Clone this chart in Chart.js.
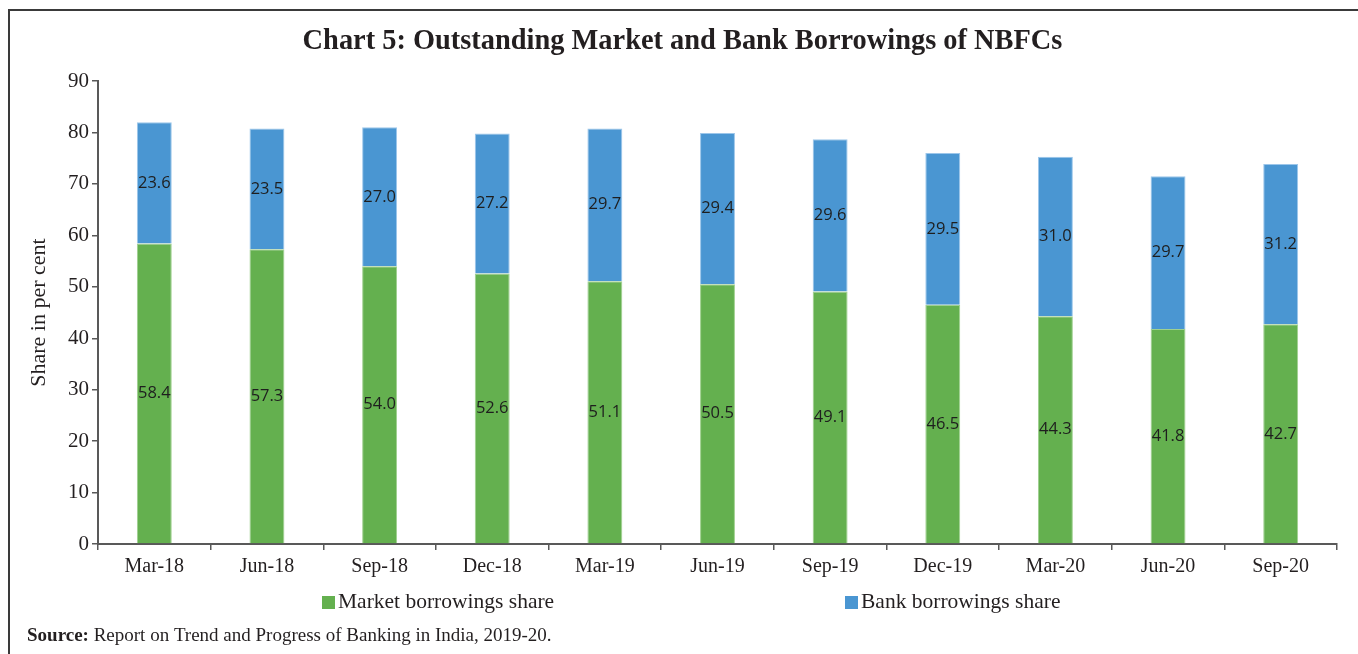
<!DOCTYPE html>
<html>
<head>
<meta charset="utf-8">
<script src="https://cdn.jsdelivr.net/npm/chart.js@4.4.1/dist/chart.umd.min.js"></script>
<style>
  html, body { margin: 0; padding: 0; background: #fff; overflow: hidden; }
  #wrap { position: relative; width: 1358px; height: 654px; }
  #frame { position: absolute; left: 8px; top: 9px; width: 1400px; height: 700px;
           border-left: 2px solid #3a3a3a; border-top: 2px solid #3a3a3a; }
  canvas { position: absolute; left: 0; top: 0; }
</style>
</head>
<body>
<div id="wrap">
  <div id="frame"></div>
  <canvas id="grafico" width="1358" height="654"></canvas>
</div>
<script>
const periodos = ['Mar-18', 'Jun-18', 'Sep-18', 'Dec-18', 'Mar-19', 'Jun-19', 'Sep-19', 'Dec-19', 'Mar-20', 'Jun-20', 'Sep-20'];
const mercado = [58.4, 57.3, 54.0, 52.6, 51.1, 50.5, 49.1, 46.5, 44.3, 41.8, 42.7];
const banco = [23.6, 23.5, 27.0, 27.2, 29.7, 29.4, 29.6, 29.5, 31.0, 29.7, 31.2];

const serif = '"Liberation Serif", "DejaVu Serif", serif';
const ejeColor = '#595959';

// numeros dentro de cada segmento
const etiquetasBarras = {
  id: 'etiquetasBarras',
  afterDatasetsDraw(chart) {
    const ctx = chart.ctx;
    ctx.save();
    ctx.font = '16.5px "Open Sans", "DejaVu Sans", sans-serif';
    ctx.fillStyle = '#1e1e1e';
    ctx.textAlign = 'center';
    ctx.textBaseline = 'middle';
    chart.data.datasets.forEach((ds, i) => {
      chart.getDatasetMeta(i).data.forEach((bar, j) => {
        ctx.fillText(ds.data[j].toFixed(1), bar.x, (bar.y + bar.base) / 2);
      });
    });
    ctx.restore();
  }
};

// leyenda abajo y fuente
const leyendaYFuente = {
  id: 'leyendaYFuente',
  afterDraw(chart) {
    const ctx = chart.ctx;
    const w = chart.width;
    const yLey = chart.chartArea.bottom + 58;
    const inicios = [322 / 1358, 845 / 1358];
    ctx.save();
    ctx.font = '21.5px ' + serif;
    ctx.textBaseline = 'middle';
    ctx.textAlign = 'left';
    chart.data.datasets.forEach((ds, i) => {
      const x = inicios[i] * w;
      ctx.fillStyle = ds.backgroundColor;
      ctx.fillRect(x, yLey - 6, 13, 13);
      ctx.fillStyle = '#231f20';
      ctx.fillText(ds.label, x + 16, yLey);
    });
    const ySrc = chart.chartArea.bottom + 92;
    ctx.font = 'bold 19px ' + serif;
    ctx.fillText('Source:', 27, ySrc);
    const ancho = ctx.measureText('Source: ').width;
    ctx.font = '19px ' + serif;
    ctx.fillText('Report on Trend and Progress of Banking in India, 2019-20.', 27 + ancho, ySrc);
    ctx.restore();
  }
};

const ctx = document.getElementById('grafico').getContext('2d');
const grafico = new Chart(ctx, {
  type: 'bar',
  data: {
    labels: periodos,
    datasets: [{
      label: 'Market borrowings share',
      data: mercado,
      backgroundColor: '#64b04f',
      borderColor: '#9fd08f',
      borderWidth: { left: 1, right: 1, top: 1, bottom: 0 },
      barPercentage: 0.31,
      categoryPercentage: 1
    }, {
      label: 'Bank borrowings share',
      data: banco,
      backgroundColor: '#4a96d2',
      borderColor: '#9cc6ea',
      borderWidth: { left: 1, right: 1, top: 1, bottom: 0 },
      barPercentage: 0.31,
      categoryPercentage: 1
    }]
  },
  options: {
    responsive: false,
    devicePixelRatio: 1,
    animation: false,
    layout: { padding: { left: 28, right: 21, top: 0, bottom: 70 } },
    plugins: {
      legend: { display: false },
      tooltip: { enabled: false },
      title: {
        display: true,
        text: 'Chart 5: Outstanding Market and Bank Borrowings of NBFCs',
        color: '#231f20',
        font: { family: serif, size: 28.4, weight: 'bold', lineHeight: 1.2 },
        padding: { top: 25, bottom: 22 }
      }
    },
    scales: {
      x: {
        stacked: true,
        border: { display: true, color: ejeColor, width: 2 },
        grid: { display: true, offset: true, drawOnChartArea: false, drawTicks: true, tickLength: 6, color: ejeColor, lineWidth: 1.5 },
        ticks: { color: '#231f20', padding: 5, font: { family: serif, size: 20 }, maxRotation: 0 },
        afterFit(scale) { scale.height = 40; }
      },
      y: {
        stacked: true,
        min: 0,
        max: 90,
        border: { display: true, color: ejeColor, width: 2 },
        grid: { display: true, drawOnChartArea: false, drawTicks: true, tickLength: 6, color: ejeColor, lineWidth: 1.5 },
        ticks: { stepSize: 10, color: '#231f20', padding: 3, font: { family: serif, size: 21 } },
        title: {
          display: true,
          text: 'Share in per cent',
          color: '#231f20',
          font: { family: serif, size: 22, lineHeight: 1 },
          padding: { top: 0, bottom: 0 }
        },
        afterFit(scale) { scale.width = 70; }
      }
    }
  },
  plugins: [etiquetasBarras, leyendaYFuente]
});
</script>
</body>
</html>
